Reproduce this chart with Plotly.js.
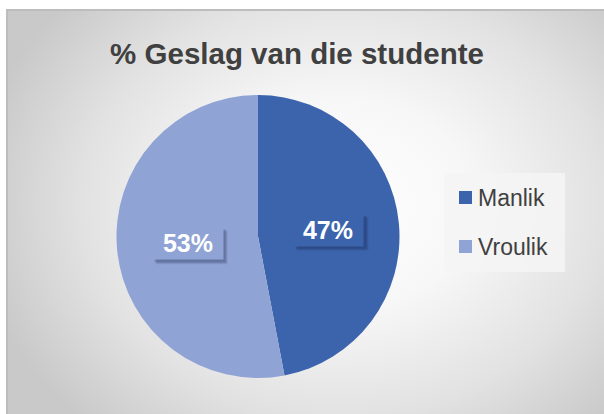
<!DOCTYPE html>
<html>
<head>
<meta charset="utf-8">
<script src="https://cdn.plot.ly/plotly-3.0.1.min.js"></script>
<style>
  html, body { margin: 0; padding: 0; background: #ffffff; }
  #frame {
    position: absolute; left: 6px; top: 9px; width: 598px; height: 405px;
    box-sizing: border-box;
    border-top: 2px solid #bdbdbd; border-left: 2px solid #bdbdbd;
    background: radial-gradient(ellipse 62% 75% at 56% 48%, #ffffff 0%, #f7f7f7 35%, #e2e2e2 70%, #c9c9c9 100%);
  }
  #chart { position: absolute; left: 0; top: 0; width: 604px; height: 414px; }
</style>
</head>
<body>
<div id="frame"></div>
<div id="chart"></div>
<script>
// ---- data ----
const categories = ['Manlik', 'Vroulik'];
const values = [47, 53];
const titleText = '% Geslag van die studente';

// ---- styles ----
const sliceColors = ['#3C64AD', '#8FA3D5'];
const W = 604, H = 414;
const cx = 258, cy = 236.5, R = 141.5;   // pie placement in pixels
const FONT = 'Arial, "Liberation Sans", sans-serif';
const BOX_W = 70, BOX_H = 32;

const px2x = p => p / W;
const px2y = p => 1 - p / H;

// label annotations derived from the data
const total = values.reduce((a, b) => a + b, 0);
const annotations = [];
const shapes = [];
let cum = 0;
values.forEach((v, i) => {
  const frac = v / total;
  const mid = (cum + frac / 2) * 2 * Math.PI;
  cum += frac;
  const lx = cx + 0.5 * R * Math.sin(mid);
  const ly = cy - 0.5 * R * Math.cos(mid);
  const txt = Math.round(frac * 100) + '%';
  // soft drop shadow (layered rects)
  [[5, 0.10], [4, 0.12], [3, 0.16]].forEach(([o, a]) => {
    shapes.push({
      type: 'rect', xref: 'paper', yref: 'paper', layer: 'above',
      x0: px2x(lx - BOX_W / 2 + o - 1), x1: px2x(lx + BOX_W / 2 + o),
      y0: px2y(ly + BOX_H / 2 + o), y1: px2y(ly - BOX_H / 2 + o - 1),
      fillcolor: 'rgba(20,30,60,' + a + ')', line: { width: 0 }
    });
  });
  annotations.push({
    x: px2x(lx), y: px2y(ly), xref: 'paper', yref: 'paper',
    xanchor: 'center', yanchor: 'middle', showarrow: false,
    text: '<b>' + txt + '</b>',
    width: BOX_W, height: BOX_H, borderpad: 0,
    bgcolor: sliceColors[i],
    font: { family: FONT, size: 25, color: '#ffffff' }
  });
});

// manual legend
const legX0 = 444, legX1 = 565, legY0 = 173, legY1 = 272;
const itemY = [197.5, 246.5];
shapes.push({
  type: 'rect', xref: 'paper', yref: 'paper',
  x0: px2x(legX0), x1: px2x(legX1), y0: px2y(legY1), y1: px2y(legY0),
  fillcolor: 'rgba(244,244,244,0.85)', line: { width: 0 }, layer: 'below'
});
categories.forEach((c, i) => {
  shapes.push({
    type: 'rect', xref: 'paper', yref: 'paper',
    x0: px2x(459), x1: px2x(472), y0: px2y(itemY[i] + 6.5), y1: px2y(itemY[i] - 6.5),
    fillcolor: sliceColors[i], line: { width: 0 }
  });
  annotations.push({
    x: px2x(476), y: px2y(itemY[i]), xref: 'paper', yref: 'paper',
    xanchor: 'left', yanchor: 'middle', showarrow: false,
    text: c,
    font: { family: FONT, size: 23, color: '#404040' }
  });
});

const trace = {
  type: 'pie',
  labels: categories,
  values: values,
  sort: false,
  direction: 'clockwise',
  rotation: 0,
  marker: { colors: sliceColors, line: { width: 0 } },
  textinfo: 'none',
  hoverinfo: 'label+percent',
  showlegend: false,
  domain: {
    x: [px2x(cx - R), px2x(cx + R)],
    y: [px2y(cy + R), px2y(cy - R)]
  }
};

const layout = {
  width: W, height: H,
  margin: { l: 0, r: 0, t: 0, b: 0 },
  paper_bgcolor: 'rgba(0,0,0,0)',
  plot_bgcolor: 'rgba(0,0,0,0)',
  showlegend: false,
  title: {
    text: '<b>' + titleText + '</b>',
    x: px2x(297), xanchor: 'center', xref: 'paper',
    y: px2y(54), yanchor: 'middle', yref: 'paper',
    font: { family: FONT, size: 29.5, color: '#404040' }
  },
  shapes: shapes,
  annotations: annotations
};

Plotly.newPlot('chart', [trace], layout, { displayModeBar: false, staticPlot: true });
</script>
</body>
</html>
